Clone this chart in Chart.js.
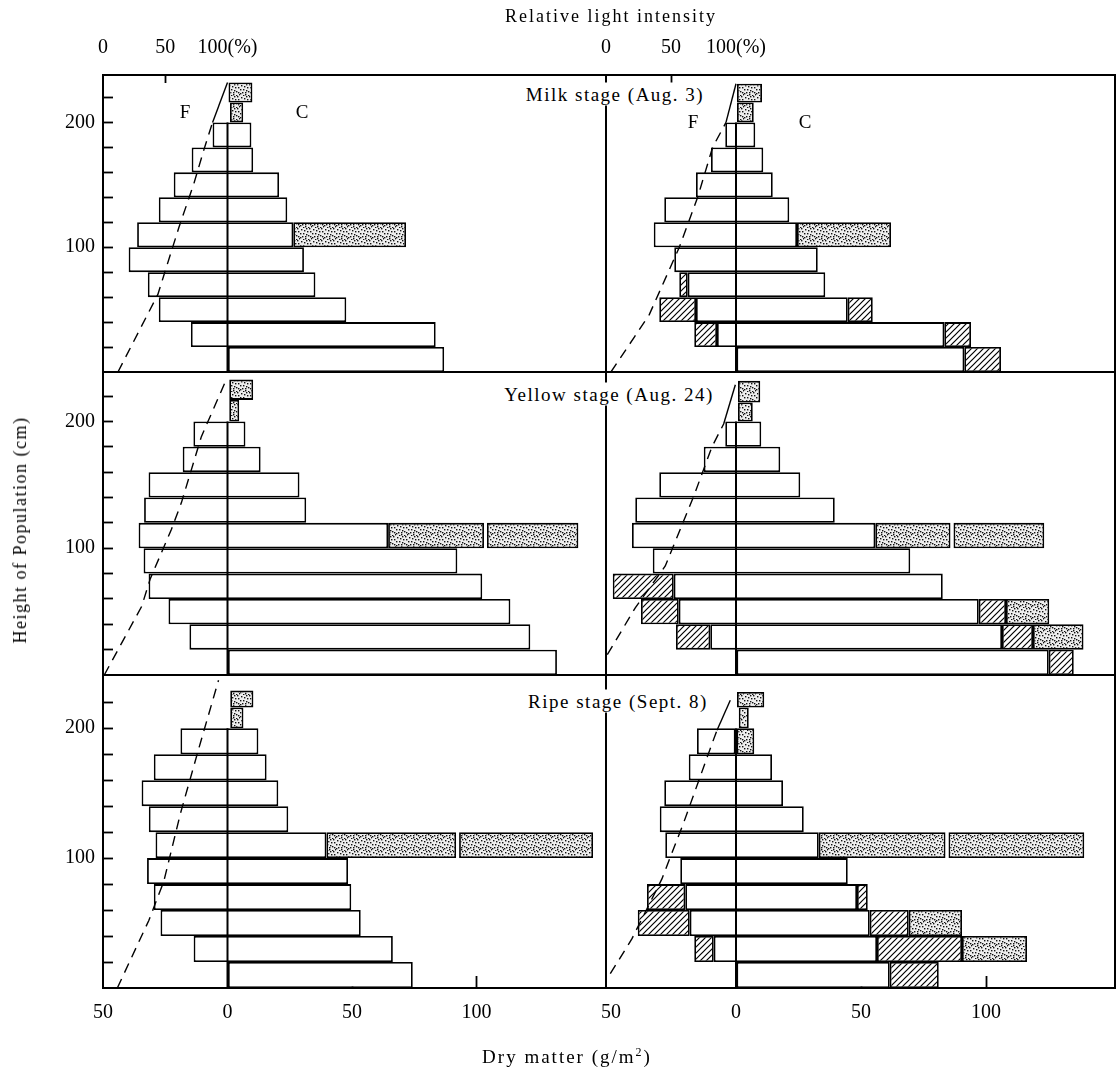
<!DOCTYPE html>
<html>
<head>
<meta charset="utf-8">
<script src="https://cdn.jsdelivr.net/npm/chart.js@4.4.1/dist/chart.umd.min.js"></script>
<style>
  body { margin: 0; background: #fff; width: 1118px; height: 1071px; position: relative; overflow: hidden;
         font-family: "Liberation Serif", "Times New Roman", serif; color: #000; }
  canvas { position: absolute; }
  .lbl { position: absolute; white-space: nowrap; line-height: 1; transform: translate(-50%, -50%); z-index: 5; }
  .stage { font-size: 19px; letter-spacing: 1.5px; background: #fff; padding: 2px 5px; }
</style>
</head>
<body>
<div id="charts"></div>

<div class="lbl" style="left:611px; top:16px; font-size:18px; letter-spacing:2px;">Relative light intensity</div>
<div class="lbl" style="left:567px; top:1056px; font-size:19px; letter-spacing:2px;">Dry matter (g/m<sup style="font-size:12px">2</sup>)</div>
<div class="lbl" style="left:20px; top:530px; font-size:18px; letter-spacing:1.5px; transform: translate(-50%, -50%) rotate(-90deg);">Height of Population (cm)</div>

<div class="lbl stage" style="left:615px; top:94px;">Milk stage (Aug. 3)</div>
<div class="lbl stage" style="left:609px; top:394px;">Yellow stage (Aug. 24)</div>
<div class="lbl stage" style="left:618px; top:701px;">Ripe stage (Sept. 8)</div>

<div class="lbl" style="left:185px; top:111px; font-size:19px;">F</div>
<div class="lbl" style="left:302px; top:111px; font-size:19px;">C</div>
<div class="lbl" style="left:693px; top:121px; font-size:19px;">F</div>
<div class="lbl" style="left:805px; top:121px; font-size:19px;">C</div>

<script>
// stem strata (cm), 20 cm each; ear strata are given explicitly
const STEM_LAYERS = [0, 20, 40, 60, 80, 100, 120, 140, 160, 180];
const STEM_TOP = 200;

const Y_TICKS = [20, 40, 60, 80, 100, 120, 140, 160, 180, 200, 220];
const Y_LABELS = [100, 200];
const X_TICKS = [-50, 0, 50, 100];
const LIGHT_TICKS = [0, 50, 100];

// --- Milk stage (Aug. 3) ---
// plain bars per stem layer: [from, to] g/m2 (leaves < 0 < stems)
const milkLeftPlain  = [[0, 87], [-14.7, 83.6], [-27.6, 47.7], [-32, 35.3], [-39.7, 30.7], [-36.3, 26.4], [-27.6, 24], [-21.6, 20.7], [-14.4, 10.3], [-6, 9.6]];
// ears (stippled): [bottom cm, top cm, from, to]
const milkLeftEars   = [[100, 120, 26.4, 71.7], [200, 216, 1, 6.3], [216, 232, 0.4, 10]];
const milkLeftDead   = [];
// relative light intensity: [%, height cm]
const milkLeftLight  = [[12, 0], [44, 62], [61, 116], [73, 151], [81, 178], [88, 200], [100, 232]];

const milkRightPlain = [[0, 91.3], [-7.6, 83.3], [-16, 44.7], [-19.3, 35.7], [-24.7, 32.7], [-32.9, 24.4], [-28.7, 21.3], [-16, 14.7], [-10, 10.9], [-4.3, 7.7]];
const milkRightEars  = [[100, 120, 24.4, 62], [200, 216, 0.4, 7.1], [216, 231, 0.4, 10.4]];
// dead leaves (hatched)
const milkRightDead  = [[0, 20, 91.3, 106], [20, 40, -16.7, -7.6], [20, 40, 83.3, 94], [40, 60, -30.7, -16], [40, 60, 44.7, 54.7], [60, 80, -22.7, -19.3]];
const milkRightLight = [[3.8, 0], [21.8, 28], [33.3, 46], [56.4, 100], [70.5, 140], [82, 180], [92.3, 200], [100, 231]];

// --- Yellow stage (Aug. 24) ---
const yellowLeftPlain  = [[0, 132.3], [-15.3, 121.6], [-23.7, 113.6], [-31.7, 102.3], [-33.7, 92.3], [-35.7, 64.5], [-33.5, 31.6], [-31.7, 28.9], [-18, 13.3], [-13.7, 7.2]];
const yellowLeftEars   = [[100, 120, 64.5, 103], [100, 120, 104.2, 140.9], [200, 217, 0.7, 4.7], [217, 233, 0.7, 10.3]];
const yellowLeftDead   = [];
const yellowLeftLight  = [[1, 0], [31, 54], [38, 76], [55, 115], [63, 136], [79, 188], [99, 233]];

const yellowRightPlain = [[0, 125.1], [-10.3, 106.4], [-22.9, 97.1], [-24.9, 82.7], [-33.3, 69.7], [-41.6, 55.7], [-40.3, 39.5], [-30.7, 25.7], [-12.9, 17.7], [-4.3, 10.1]];
const yellowRightEars  = [[20, 40, 118.8, 139], [40, 60, 108, 125.3], [100, 120, 55.7, 85.8], [100, 120, 87, 123.3], [200, 215, 0.8, 6.7], [215, 232, 0.8, 9.7]];
const yellowRightDead  = [[0, 20, 125.1, 135.1], [20, 40, -24, -10.3], [20, 40, 106.4, 118.8], [40, 60, -38, -22.9], [40, 60, 97.1, 108], [60, 80, -49.3, -24.9]];
const yellowRightLight = [[1, 16], [22.5, 53], [45.6, 86], [67.5, 141], [81.5, 180], [90.5, 198], [99.5, 229]];

// --- Ripe stage (Sept. 8) ---
const ripeLeftPlain  = [[0, 74.4], [-13.6, 66.4], [-26.9, 53.5], [-29.6, 49.7], [-32.3, 48.4], [-28.9, 39.7], [-31.6, 24.4], [-34.5, 20.4], [-29.6, 15.7], [-18.9, 12.4]];
const ripeLeftEars   = [[100, 120, 39.7, 91.8], [100, 120, 93, 146.8], [200, 216, 1.1, 6.4], [216, 229, 1.1, 10.4]];
const ripeLeftDead   = [];
const ripeLeftLight  = [[11.5, 0], [36.8, 52], [48.8, 82], [62.1, 134], [76.8, 184], [92.8, 237]];

const ripeRightPlain = [[0, 61.5], [-8.9, 56.4], [-18.5, 53.5], [-20.3, 48.4], [-22.3, 44.7], [-28.3, 33.1], [-30.5, 27.1], [-28.7, 18.8], [-18.9, 14.4], [-15.6, 0]];
const ripeRightEars  = [[20, 40, 90.4, 116.4], [40, 60, 69.1, 90.4], [100, 120, 33.1, 83.8], [100, 120, 85, 139.3], [180, 200, 0, 7.3], [200, 216, 1.1, 5.1], [216, 228, 0.4, 11.3]];
const ripeRightDead  = [[0, 20, 61.5, 81.1], [20, 40, -16.7, -8.9], [20, 40, 56.4, 90.4], [40, 60, -39.3, -18.5], [40, 60, 53.5, 69.1], [60, 80, -35.6, -20.3], [60, 80, 48.4, 52.7]];
const ripeRightLight = [[3.3, 11], [20, 38], [43, 84], [60, 128], [81.5, 188], [85.4, 198.5], [95.6, 221.5]];

// layout of the figure frame (px) and scale ranges
const COLS = [
  { left: 103, right: 606, xMin: -50, xMax: 152, padL: 103, padR: 12 },
  { left: 606, right: 1115, xMin: -52, xMax: 151.6, padL: 30, padR: 12 },
];
const ROWS = [
  { top: 75,  bottom: 372, yMax: 238, padT: 75, padB: 40 },
  { top: 372, bottom: 675, yMax: 239, padT: 40, padB: 40 },
  { top: 675, bottom: 988, yMax: 241, padT: 40, padB: 70 },
];
const PANELS = [
  [{ plain: milkLeftPlain, ears: milkLeftEars, dead: milkLeftDead, light: milkLeftLight },
   { plain: milkRightPlain, ears: milkRightEars, dead: milkRightDead, light: milkRightLight }],
  [{ plain: yellowLeftPlain, ears: yellowLeftEars, dead: yellowLeftDead, light: yellowLeftLight },
   { plain: yellowRightPlain, ears: yellowRightEars, dead: yellowRightDead, light: yellowRightLight }],
  [{ plain: ripeLeftPlain, ears: ripeLeftEars, dead: ripeLeftDead, light: ripeLeftLight },
   { plain: ripeRightPlain, ears: ripeRightEars, dead: ripeRightDead, light: ripeRightLight }],
];

// fill patterns
function stipple() {
  const c = document.createElement('canvas');
  c.width = c.height = 12;
  const g = c.getContext('2d');
  g.fillStyle = '#eeeeee';
  g.fillRect(0, 0, 12, 12);
  g.fillStyle = '#111';
  [[1, 1], [6, 0], [10, 3], [3, 5], [8, 7], [0, 9], [5, 10], [11, 10], [2, 8], [7, 3],
   [4, 2], [9, 0], [0, 5], [6, 6], [10, 8], [3, 11], [8, 11], [5, 8]]
    .forEach(([x, y]) => g.fillRect(x, y, 1.4, 1.4));
  return g.createPattern(c, 'repeat');
}
function hatch() {
  const s = 6;
  const c = document.createElement('canvas');
  c.width = c.height = s;
  const g = c.getContext('2d');
  g.fillStyle = '#fff';
  g.fillRect(0, 0, s, s);
  g.strokeStyle = '#000';
  g.lineWidth = 1.2;
  g.beginPath();
  g.moveTo(0, s); g.lineTo(s, 0);
  g.moveTo(-1, 1); g.lineTo(1, -1);
  g.moveTo(s - 1, s + 1); g.lineTo(s + 1, s - 1);
  g.stroke();
  return g.createPattern(c, 'repeat');
}
const FILLS = { plain: '#fff', ear: stipple(), dead: hatch() };

const TICK_FONT = { family: '"Liberation Serif", serif', size: 20 };

function buildDatasets(p, row) {
  const pxPerCm = (row.bottom - row.top) / row.yMax;
  const segs = [];
  p.plain.forEach(([from, to], i) => segs.push({ kind: 'plain', b: STEM_LAYERS[i], t: STEM_LAYERS[i] + 20, from, to }));
  p.ears.forEach(([b, t, from, to]) => segs.push({ kind: 'ear', b, t, from, to }));
  p.dead.forEach(([b, t, from, to]) => segs.push({ kind: 'dead', b, t, from, to }));

  // one bar dataset per (fill, stratum thickness)
  const groups = new Map();
  segs.forEach(s => {
    const key = s.kind + ':' + (s.t - s.b);
    if (!groups.has(key)) groups.set(key, { kind: s.kind, thick: s.t - s.b, data: [] });
    groups.get(key).data.push({ y: (s.b + s.t) / 2, x: [s.from, s.to] });
  });

  const ds = [];
  groups.forEach(g => ds.push({
    type: 'bar',
    indexAxis: 'y',
    xAxisID: 'x',
    yAxisID: 'y',
    data: g.data,
    backgroundColor: FILLS[g.kind],
    borderColor: '#000',
    borderWidth: 1.8,
    borderSkipped: false,
    grouped: false,
    barThickness: g.thick * pxPerCm,
    inflateAmount: 0,
    order: 2,
  }));

  // zero line of the dry matter scale
  ds.push({
    type: 'line', xAxisID: 'x', yAxisID: 'y',
    data: [{ x: 0, y: 0 }, { x: 0, y: STEM_TOP }],
    borderColor: '#000', borderWidth: 2, pointRadius: 0, order: 1,
  });

  // relative light intensity (F)
  ds.push({
    type: 'line', xAxisID: 'x2', yAxisID: 'y',
    data: p.light.map(([l, h]) => ({ x: l, y: h })),
    borderColor: '#000', borderWidth: 1.4, borderDash: [10, 7],
    segment: { borderDash: c => (c.p0.parsed.y >= 196 ? [] : undefined) },
    pointRadius: 0, tension: 0, order: 0,
  });
  return ds;
}

// keep the plot area exactly where the frame is
function fixSize(prop, size) {
  return s => {
    s[prop] = size;
    s.paddingTop = s.paddingBottom = s.paddingLeft = s.paddingRight = 0;
  };
}

const holder = document.getElementById('charts');

ROWS.forEach((row, r) => {
  COLS.forEach((col, c) => {
    const isTop = r === 0, isBottom = r === ROWS.length - 1, isLeft = c === 0;
    const w = col.right - col.left + col.padL + col.padR;
    const h = row.bottom - row.top + row.padT + row.padB;
    const cv = document.createElement('canvas');
    cv.width = w;
    cv.height = h;
    cv.style.left = (col.left - col.padL) + 'px';
    cv.style.top = (row.top - row.padT) + 'px';
    holder.appendChild(cv);

    const lightMax = (col.xMax - col.xMin) / -col.xMin * 100;
    const border = { display: true, color: '#000', width: 2 };

    new Chart(cv, {
      type: 'bar',
      data: { datasets: buildDatasets(PANELS[r][c], row) },
      options: {
        responsive: false,
        animation: false,
        devicePixelRatio: 1,
        indexAxis: 'y',
        layout: { padding: 0 },
        plugins: { legend: { display: false }, tooltip: { enabled: false } },
        scales: {
          x: {
            type: 'linear', position: 'bottom', min: col.xMin, max: col.xMax, offset: false,
            afterBuildTicks: s => { s.ticks = X_TICKS.map(value => ({ value })); },
            afterFit: fixSize('height', row.padB),
            grid: {
              offset: false, drawOnChartArea: false, drawTicks: isBottom, tickLength: -12, tickWidth: 1.8,
              tickColor: ctx => (ctx.tick && ctx.tick.value > 0 ? '#000' : 'rgba(0,0,0,0)'),
            },
            border,
            ticks: {
              display: isBottom, padding: 25, autoSkip: false, maxRotation: 0,
              font: TICK_FONT, color: '#000',
              callback: v => String(Math.abs(v)),
            },
          },
          x2: {
            type: 'linear', position: 'top', min: 0, max: lightMax, offset: false,
            afterBuildTicks: s => { s.ticks = LIGHT_TICKS.map(value => ({ value })); },
            afterFit: fixSize('height', row.padT),
            grid: {
              offset: false, drawOnChartArea: false, drawTicks: isTop, tickLength: -8, tickWidth: 1.8,
              tickColor: ctx => (ctx.tick && ctx.tick.value === 50 ? '#000' : 'rgba(0,0,0,0)'),
            },
            border,
            ticks: {
              display: isTop, padding: 23, autoSkip: false, maxRotation: 0,
              font: TICK_FONT, color: '#000',
              callback: v => (v === 100 ? '100(%)' : String(v)),
            },
          },
          y: {
            type: 'linear', position: 'left', min: 0, max: row.yMax, offset: false,
            afterBuildTicks: s => { s.ticks = Y_TICKS.map(value => ({ value })); },
            afterFit: fixSize('width', col.padL),
            grid: { offset: false, drawOnChartArea: false, drawTicks: isLeft, tickLength: -10, tickWidth: 1.8, tickColor: '#000' },
            border,
            ticks: {
              display: isLeft, padding: 18, autoSkip: false,
              font: TICK_FONT, color: '#000',
              callback: v => (Y_LABELS.includes(v) ? String(v) : ''),
            },
          },
          y2: {
            type: 'linear', position: 'right', min: 0, max: row.yMax, offset: false,
            afterFit: fixSize('width', col.padR),
            grid: { drawOnChartArea: false, drawTicks: false },
            border,
            ticks: { display: false },
          },
        },
      },
    });
  });
});
</script>
</body>
</html>
